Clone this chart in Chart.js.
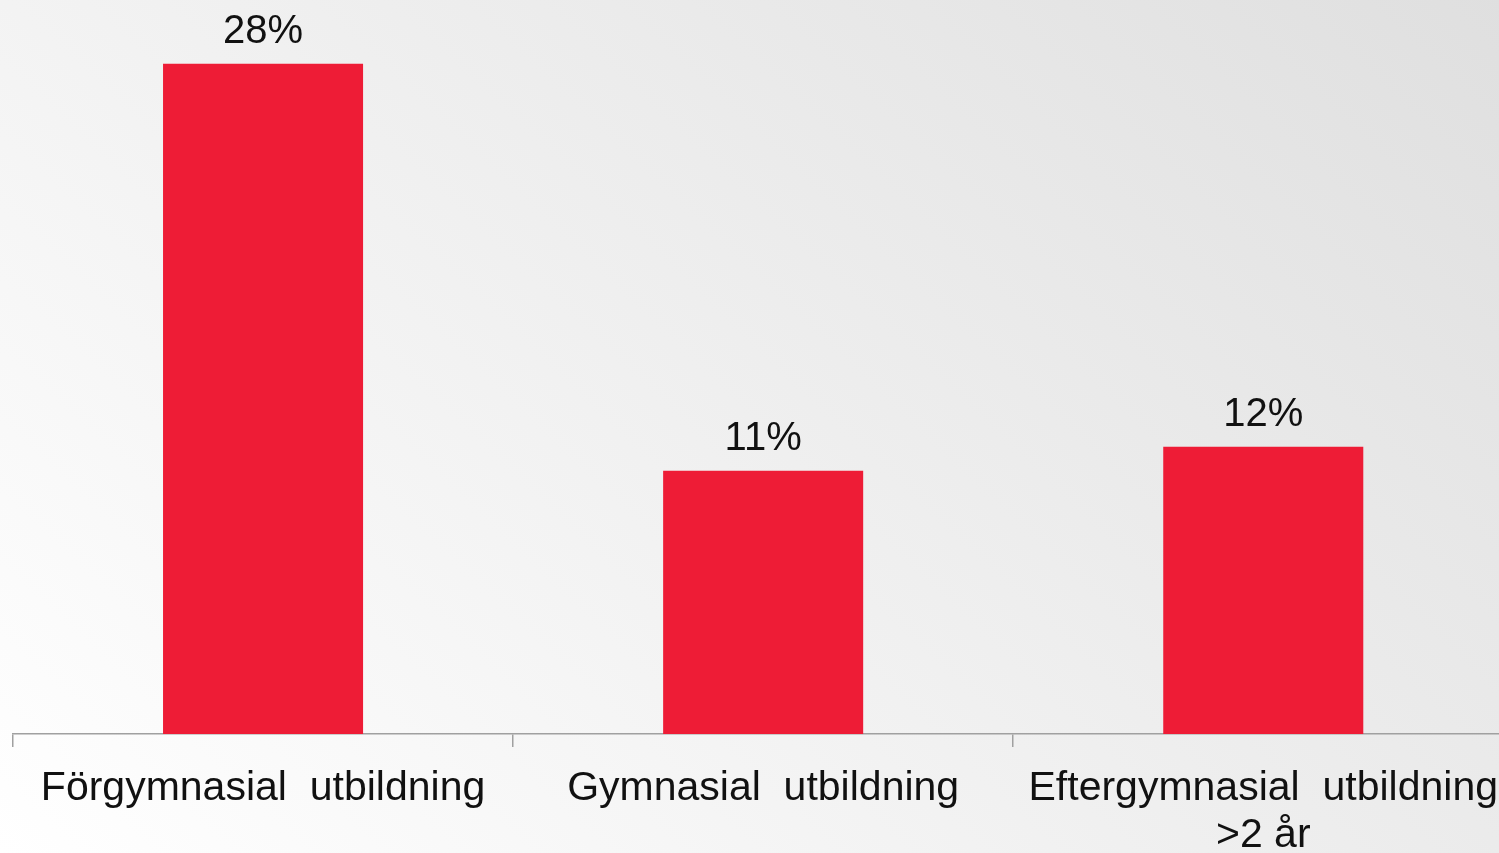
<!DOCTYPE html>
<html>
<head>
<meta charset="utf-8">
<script src="https://cdn.jsdelivr.net/npm/chart.js@4/dist/chart.umd.min.js"></script>
<style>
  html, body { margin: 0; padding: 0; overflow: hidden; background: #fff; }
  #wrap { width: 1516px; height: 853px; }
</style>
</head>
<body>
<div id="wrap"><canvas id="utbChart"></canvas></div>
<script>
// Data
const categories = [['Förgymnasial  utbildning'], ['Gymnasial  utbildning'], ['Eftergymnasial  utbildning', '>2 år']];
const values = [28, 11, 12];
const valueLabels = ['28%', '11%', '12%'];

// Background gradient, light bottom-left to grey top-right
const bgPlugin = {
    id: 'bg',
    beforeDraw(chart) {
        const ctx = chart.ctx;
        const w = chart.width, h = chart.height;
        const g = ctx.createLinearGradient(0, h, w * 0.8, -h * 0.5);
        g.addColorStop(0, '#ffffff');
        g.addColorStop(1, '#dddddd');
        ctx.save();
        ctx.fillStyle = g;
        ctx.fillRect(0, 0, w, h);
        ctx.restore();
    }
};

// Value labels above the bars
const valuePlugin = {
    id: 'values',
    afterDatasetsDraw(chart) {
        const ctx = chart.ctx;
        const meta = chart.getDatasetMeta(0);
        ctx.save();
        ctx.font = '40px "Liberation Sans", Arial, sans-serif';
        ctx.fillStyle = '#111';
        ctx.textAlign = 'center';
        ctx.textBaseline = 'alphabetic';
        meta.data.forEach(function(bar, i) {
            ctx.fillText(valueLabels[i], bar.x, bar.y - 21);
        });
        ctx.restore();
    }
};

const ctx = document.getElementById('utbChart').getContext('2d');
new Chart(ctx, {
    type: 'bar',
    data: {
        labels: categories,
        datasets: [{
            data: values,
            backgroundColor: '#ee1c36',
            barPercentage: 0.4,
            categoryPercentage: 1
        }]
    },
    options: {
        responsive: true,
        maintainAspectRatio: false,
        animation: false,
        layout: { padding: { left: 13, right: 0, top: 16, bottom: 0 } },
        plugins: { legend: { display: false }, tooltip: { enabled: false } },
        scales: {
            x: {
                afterFit: function(axis) { axis.height = 119; },
                grid: { drawOnChartArea: false, tickLength: 13, color: '#a0a0a0', lineWidth: 1.5 },
                border: { color: '#a0a0a0', width: 1.5 },
                ticks: {
                    color: '#111',
                    padding: 18,
                    maxRotation: 0,
                    autoSkip: false,
                    font: { family: '"Liberation Sans", Arial, sans-serif', size: 41, lineHeight: 1.15 }
                }
            },
            y: {
                display: false,
                min: 0,
                max: 30
            }
        }
    },
    plugins: [bgPlugin, valuePlugin]
});
</script>
</body>
</html>
